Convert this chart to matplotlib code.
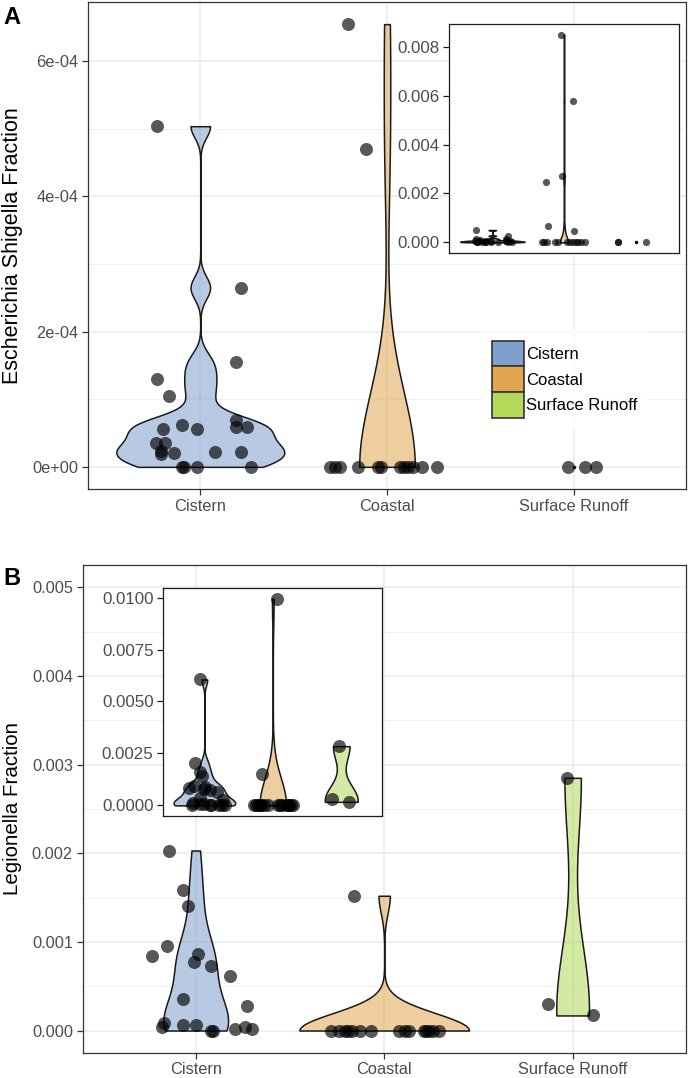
import numpy as np
import matplotlib.pyplot as plt
from matplotlib.patches import Patch
from matplotlib.colors import to_rgba
from matplotlib.ticker import MultipleLocator, FuncFormatter

plt.rcParams['font.family'] = ['Liberation Sans', 'DejaVu Sans']

groups = ['Cistern', 'Coastal', 'Surface Runoff']
colors = ['#7fa0cc', '#e0a650', '#b2d95a']

# panel A: Escherichia Shigella fraction, with jitter offsets (category units)
ecoli_cistern = [5.04e-4, 2.65e-4, 1.55e-4, 1.30e-4, 1.05e-4, 6.2e-5, 5.6e-5, 5.6e-5,
                 6.9e-5, 5.9e-5, 5.9e-5, 3.5e-5, 3.5e-5, 2.4e-5, 1.9e-5, 2.1e-5,
                 2.2e-5, 2.2e-5, 0, 0, 0, 0]
ecoli_cistern_jit = [-0.23, 0.22, 0.19, -0.23, -0.17, -0.10, -0.20, -0.02, 0.19, 0.19,
                     0.25, -0.24, -0.19, -0.21, -0.21, -0.14, 0.08, 0.22, -0.10, -0.09,
                     -0.02, 0.27]
ecoli_coastal = [6.55e-4, 4.7e-4, 0, 0, 0, 0, 0, 0, 0, 0, 0, 0, 0, 0,
                 0.00246, 0.0027, 0.0058, 0.0085]
ecoli_coastal_jit = [-0.21, -0.11, -0.305, -0.28, -0.25, -0.155, -0.05, -0.03, 0.07,
                     0.09, 0.11, 0.14, 0.19, 0.27, -0.25, -0.03, 0.13, -0.04]
ecoli_coastal_inset_jit = [-0.22, 0.14, -0.31, -0.28, -0.24, -0.13, -0.08, 0.04, 0.08,
                           0.13, 0.17, 0.20, 0.24, 0.29, -0.25, -0.03, 0.13, -0.04]
ecoli_runoff = [0, 0, 0]
ecoli_runoff_jit = [-0.03, 0.06, 0.12]
ecoli_runoff_inset_jit = [-0.25, -0.24, 0.15]
ecoli_cutoff = 7e-4

# panel B: Legionella fraction
leg_cistern = [0.00203, 0.00159, 0.00140, 0.00095, 0.00084, 0.00086, 0.00077, 0.00073,
               0.00062, 0.00028, 0.00035, 0.00009, 0.00004, 0.00006, 0.00006, 0, 0,
               0.00002, 0.00004, 0.00002, 0.00606]
leg_cistern_jit = [-0.14, -0.07, -0.04, -0.15, -0.23, 0.01, -0.01, 0.08, 0.18, 0.27,
                   -0.07, -0.17, -0.18, -0.07, 0.0, 0.08, 0.09, 0.21, 0.26, 0.30, -0.06]
leg_coastal = [0.00152, 0, 0, 0, 0, 0, 0, 0, 0, 0, 0, 0, 0, 0, 0, 0, 0.00995]
leg_coastal_jit = [-0.16, -0.28, -0.24, -0.21, -0.19, -0.17, -0.13, -0.07, 0.08, 0.11,
                   0.13, 0.21, 0.22, 0.24, 0.26, 0.29, 0.06]
leg_runoff = [0.00285, 0.00030, 0.00017]
leg_runoff_jit = [-0.03, -0.13, 0.11]
leg_limit = 0.005


def bw_nrd0(x):
    # same rule as R's bw.nrd0 (ggplot default)
    hi = np.std(x, ddof=1)
    q1, q3 = np.percentile(x, [25, 75])
    lo = min(hi, (q3 - q1) / 1.34)
    if not lo:
        lo = hi or abs(x[0]) or 1.0
    return 0.9 * lo * len(x) ** -0.2


def density(x):
    x = np.asarray(x, float)
    bw = bw_nrd0(x)
    ys = np.linspace(x.min(), x.max(), 512)
    d = np.exp(-0.5 * ((ys[:, None] - x[None, :]) / bw) ** 2).sum(1)
    return ys, d / (len(x) * bw * np.sqrt(2 * np.pi))


def violins(ax, data, jits, size, limit=None):
    sets = []
    for vals, jit in zip(data, jits):
        vals = np.asarray(vals, float)
        jit = np.asarray(jit, float)
        if limit is not None:
            keep = vals <= limit
            vals, jit = vals[keep], jit[keep]
        sets.append((vals, jit))
    dens = [density(v) if np.ptp(v) > 0 else None for v, _ in sets]
    dmax = max(d[1].max() for d in dens if d is not None)
    for i, ((vals, jit), dj) in enumerate(zip(sets, dens)):
        pos = i + 1
        if dj is None:
            ax.plot(pos, vals[0], 'o', color='black', ms=1.5, zorder=3)
        else:
            ys, d = dj
            w = d / dmax * 0.45
            ax.fill_betweenx(ys, pos - w, pos + w, facecolor=to_rgba(colors[i], 0.55),
                             edgecolor='#1a1a1a', lw=1.1, zorder=3)
        ax.scatter(pos + jit, vals, s=size, color='black', alpha=0.65, lw=0, zorder=4)
    return sets


def padded(lo, hi):
    r = hi - lo
    return lo - 0.05 * r, hi + 0.05 * r


def style_main(ax, major, minor, fmt):
    ax.set_xlim(0.4, 3.6)
    ax.set_xticks([1, 2, 3])
    ax.set_xticklabels(groups)
    ax.yaxis.set_major_locator(MultipleLocator(major))
    ax.yaxis.set_minor_locator(MultipleLocator(minor))
    ax.yaxis.set_major_formatter(FuncFormatter(fmt))
    ax.set_axisbelow(True)
    ax.grid(which='major', color='#ebebeb', lw=1.1, zorder=0)
    ax.grid(which='minor', axis='y', color='#ebebeb', lw=0.6, zorder=0)
    ax.tick_params(which='major', length=4, width=0.9, color='#333333',
                   labelsize=11.8, labelcolor='#4d4d4d', pad=3)
    ax.tick_params(which='minor', length=0)
    for s in ax.spines.values():
        s.set_color('#333333')
        s.set_linewidth(0.9)


def style_inset(ax, major, fmt):
    ax.set_xlim(0.4, 3.6)
    ax.set_xticks([])
    ax.yaxis.set_major_locator(MultipleLocator(major))
    ax.yaxis.set_major_formatter(FuncFormatter(fmt))
    ax.tick_params(length=4, width=0.9, color='#1a1a1a', labelsize=12.2,
                   labelcolor='#4d4d4d', pad=3)
    for s in ax.spines.values():
        s.set_color('#1a1a1a')
        s.set_linewidth(0.9)


W, H = 688, 1078
fig = plt.figure(figsize=(W / 100, H / 100), dpi=100)


def px_axes(l, t, r, b):
    return fig.add_axes([l / W, 1 - b / H, (r - l) / W, (b - t) / H])


# ---- panel A
axA = px_axes(88.3, 2, 685.7, 489)
dataA = [ecoli_cistern, ecoli_coastal, ecoli_runoff]
jitA = [ecoli_cistern_jit, ecoli_coastal_jit, ecoli_runoff_jit]
kept = violins(axA, dataA, jitA, 88, limit=ecoli_cutoff)
allv = np.concatenate([v for v, _ in kept])
axA.set_ylim(*padded(allv.min(), allv.max()))
style_main(axA, 2e-4, 1e-4, lambda v, p: f'{v:.0e}')
axA.set_ylabel('Escherichia Shigella Fraction', fontsize=15.5)
axA.yaxis.set_label_coords(-0.11, 0.5)

handles = [Patch(facecolor=c, edgecolor='#333333', lw=1.2) for c in colors]
leg = axA.legend(handles, groups, loc='upper left', bbox_to_anchor=(481 / W, 1 - 330 / H),
                 bbox_transform=fig.transFigure, fontsize=12, frameon=True,
                 fancybox=False, borderpad=0.64, handlelength=1.92, handleheight=2.0,
                 labelspacing=0, handletextpad=0.15, borderaxespad=0)
leg.get_frame().set_facecolor('white')
leg.get_frame().set_edgecolor('none')

insA = px_axes(449.3, 24.3, 678.7, 252.7)
violins(insA, dataA, [ecoli_cistern_jit, ecoli_coastal_inset_jit, ecoli_runoff_inset_jit], 27)
allv = np.concatenate([np.asarray(v, float) for v in dataA])
insA.set_ylim(*padded(allv.min(), allv.max()))
style_inset(insA, 0.002, lambda v, p: f'{v:.3f}')

# ---- panel B
axB = px_axes(82.7, 565, 685.7, 1052.7)
dataB = [leg_cistern, leg_coastal, leg_runoff]
jitB = [leg_cistern_jit, leg_coastal_jit, leg_runoff_jit]
violins(axB, dataB, jitB, 88, limit=leg_limit)
axB.set_ylim(*padded(0, leg_limit))
style_main(axB, 0.001, 0.0005, lambda v, p: f'{v:.3f}')
axB.set_ylabel('Legionella Fraction', fontsize=14.8)
axB.yaxis.set_label_coords(-0.1, 0.5)

insB = px_axes(163.3, 588.3, 382.3, 815.7)
violins(insB, dataB, jitB, 88)
allv = np.concatenate([np.asarray(v, float) for v in dataB])
insB.set_ylim(*padded(allv.min(), allv.max()))
style_inset(insB, 0.0025, lambda v, p: f'{v:.4f}')

fig.text(3 / W, 1 - 24 / H, 'A', fontsize=17, fontweight='bold', va='baseline')
fig.text(3 / W, 1 - 585 / H, 'B', fontsize=17, fontweight='bold', va='baseline')

fig.savefig('out.png', dpi=100)
